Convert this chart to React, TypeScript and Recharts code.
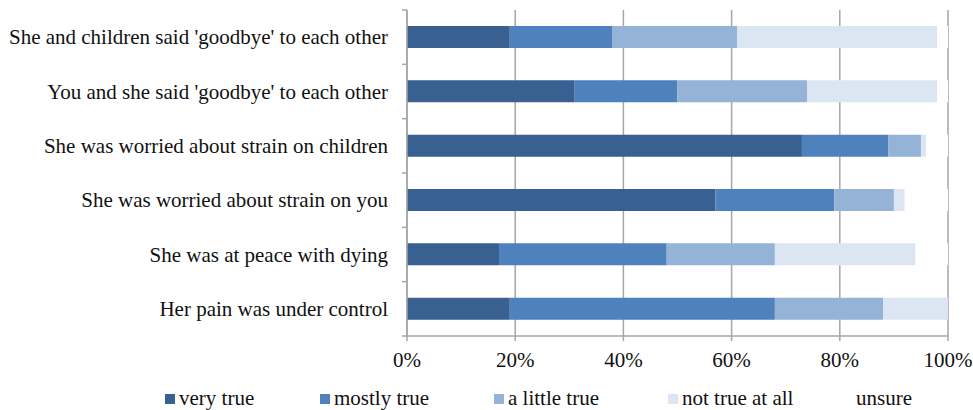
import { Bar, BarChart, CartesianGrid, Legend, XAxis, YAxis } from 'recharts'

const CATEGORIES = [
  "She and children said 'goodbye' to each other",
  "You and she said 'goodbye' to each other",
  'She was worried about strain on children',
  'She was worried about strain on you',
  'She was at peace with dying',
  'Her pain was under control',
]
const VERY_TRUE = [19, 31, 73, 57, 17, 19]
const MOSTLY_TRUE = [19, 19, 16, 22, 31, 49]
const A_LITTLE_TRUE = [23, 24, 6, 11, 20, 20]
const NOT_TRUE_AT_ALL = [37, 24, 1, 2, 26, 12]
const UNSURE = [2, 2, 4, 8, 6, 0]
const X_TICKS = [0, 20, 40, 60, 80, 100]

const SERIES = [
  { key: 'veryTrue', label: 'very true', color: '#386192' },
  { key: 'mostlyTrue', label: 'mostly true', color: '#4f81bd' },
  { key: 'aLittleTrue', label: 'a little true', color: '#95b3d7' },
  { key: 'notTrue', label: 'not true at all', color: '#dce6f2' },
  { key: 'unsure', label: 'unsure', color: '#ffffff' },
]

const data = CATEGORIES.map((name, i) => ({
  name,
  veryTrue: VERY_TRUE[i],
  mostlyTrue: MOSTLY_TRUE[i],
  aLittleTrue: A_LITTLE_TRUE[i],
  notTrue: NOT_TRUE_AT_ALL[i],
  unsure: UNSURE[i],
}))

const FONT = '"Liberation Serif", "Times New Roman", serif'
const AXIS = '#a6a6a6'
const PLOT_TOP = 10
const PLOT_BOTTOM = 336
const BAND = (PLOT_BOTTOM - PLOT_TOP) / CATEGORIES.length
// legend item left edges, Excel spaced them by hand
const LEGEND_X = [165, 320, 494, 668, 842]

function CategoryTick(props: any) {
  const { x, y, payload, index } = props
  const half = BAND / 2
  return (
    <g>
      <line x1={x - 5} x2={x} y1={y - half} y2={y - half} stroke={AXIS} strokeWidth={1.5} />
      {index === CATEGORIES.length - 1 && (
        <line x1={x - 5} x2={x} y1={y + half} y2={y + half} stroke={AXIS} strokeWidth={1.5} />
      )}
      <text x={x - 19} y={y} dy={7} textAnchor="end" fill="#111" fontSize={21} fontFamily={FONT}>
        {payload.value}
      </text>
    </g>
  )
}

function LegendRow() {
  return (
    <div style={{ position: 'relative', width: 973, height: 30, fontFamily: FONT, fontSize: 21, color: '#111' }}>
      {SERIES.map((s, i) => (
        <div key={s.key} style={{ position: 'absolute', left: LEGEND_X[i], top: 2, display: 'flex', alignItems: 'center', whiteSpace: 'nowrap' }}>
          <span style={{ width: 10, height: 10, background: s.color, marginRight: 4, display: 'inline-block' }} />
          <span>{s.label}</span>
        </div>
      ))}
    </div>
  )
}

export default function App() {
  return (
    <div style={{ position: 'absolute', left: 0, top: 0, width: 973, height: 410, background: '#fff' }}>
      <BarChart
        width={973}
        height={410}
        data={data}
        layout="vertical"
        margin={{ top: PLOT_TOP, right: 25, left: 0, bottom: 4 }}
        barSize={22}
      >
        <CartesianGrid horizontal={false} stroke={AXIS} strokeWidth={1.5} />
        <XAxis
          type="number"
          domain={[0, 100]}
          ticks={X_TICKS}
          tickFormatter={(v) => `${v}%`}
          height={40}
          stroke={AXIS}
          strokeWidth={1.5}
          tickSize={5}
          tickMargin={11}
          tick={{ fill: '#111', fontSize: 21, fontFamily: FONT }}
          interval={0}
        />
        <YAxis
          type="category"
          dataKey="name"
          width={407}
          stroke={AXIS}
          strokeWidth={1.5}
          tickLine={false}
          tickSize={0}
          tickMargin={0}
          tick={<CategoryTick />}
          interval={0}
        />
        {SERIES.map((s) => (
          <Bar key={s.key} dataKey={s.key} name={s.label} stackId="a" fill={s.color} isAnimationActive={false} />
        ))}
        <Legend
          verticalAlign="bottom"
          content={() => <LegendRow />}
          wrapperStyle={{ left: 0, top: 384, bottom: 'auto', width: 973 }}
        />
      </BarChart>
    </div>
  )
}
